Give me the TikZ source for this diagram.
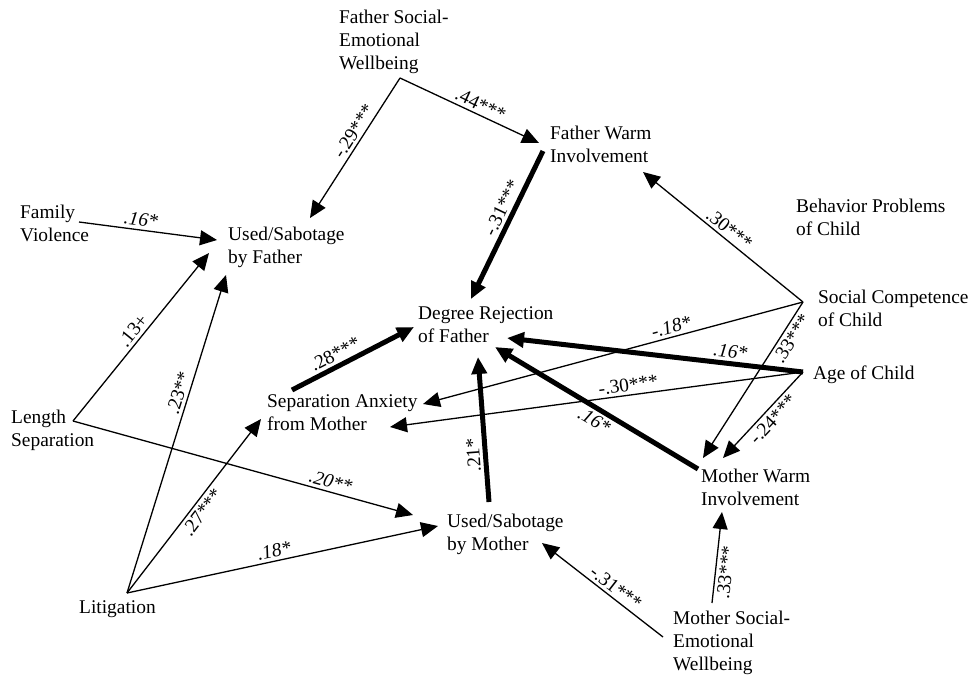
\documentclass[tikz,border=0pt]{standalone}
\usepackage{fontspec}
\setmainfont{Liberation Serif}
\usetikzlibrary{arrows.meta}

\begin{document}
\begin{tikzpicture}[x=1pt, y=-1pt, >={Triangle[length=17pt,width=15pt]}, every node/.style={font=\fontsize{19.4}{23}\selectfont}]
  \tikzstyle{var}=[anchor=north west, inner sep=0pt, align=left]
  \tikzstyle{lnk}=[->, line width=1.3pt]
  \tikzstyle{lnkb}=[->, line width=5pt]
  \tikzstyle{coef}=[sloped, inner sep=3pt]
  \tikzstyle{coefi}=[coef, font=\fontsize{19.4}{23}\selectfont\itshape]
  \useasboundingbox (0,0) rectangle (972,678);
  % variables
  \node[var] (fsew) at (339,10) {Father Social-\\Emotional\\Wellbeing};
  \node[var] (fw) at (550,126) {Father Warm\\Involvement};
  \node[var] (bp) at (796,199) {Behavior Problems\\of Child};
  \node[var] (sc) at (818,290) {Social Competence\\of Child};
  \node[var] (age) at (813,366) {Age of Child};
  \node[var] (dr) at (418,306) {Degree Rejection\\of Father};
  \node[var] (fv) at (20,205) {Family\\Violence};
  \node[var] (uf) at (228,227) {Used/Sabotage\\by Father};
  \node[var] (ls) at (11,410) {Length\\Separation};
  \node[var] (sa) at (267,394) {Separation Anxiety\\from Mother};
  \node[var] (um) at (447,514) {Used/Sabotage\\by Mother};
  \node[var] (lit) at (79,600) {Litigation};
  \node[var] (mw) at (701,469) {Mother Warm\\Involvement};
  \node[var] (msew) at (673,611) {Mother Social-\\Emotional\\Wellbeing};
  % ports
  \coordinate (fsew-o) at (400,78);
  \coordinate (fw-o) at (543,151);
  \coordinate (fv-o) at (79,222);
  \coordinate (ls-o) at (73,421);
  \coordinate (lit-o) at (127,593);
  \coordinate (sa-o) at (292,390);
  \coordinate (um-o) at (489,502);
  \coordinate (age-o) at (803,372);
  \coordinate (mw-o) at (698,469);
  \coordinate (sc-o) at (803,302);
  \coordinate (msew-o1) at (663,637);
  \coordinate (msew-o2) at (712,603);
  \coordinate (uf-a) at (310,218);
  \coordinate (uf-b) at (217,240);
  \coordinate (uf-c) at (209,253);
  \coordinate (uf-d) at (226,275);
  \coordinate (fw-a) at (539,143);
  \coordinate (fw-b) at (643,172);
  \coordinate (dr-a) at (471,299);
  \coordinate (dr-b) at (414,327);
  \coordinate (dr-c) at (478,357);
  \coordinate (dr-d) at (507,338);
  \coordinate (dr-e) at (495,347);
  \coordinate (sa-a) at (261,419);
  \coordinate (sa-b) at (423,404);
  \coordinate (sa-c) at (390,427);
  \coordinate (um-a) at (438,526);
  \coordinate (um-b) at (413,515);
  \coordinate (um-c) at (542,543);
  \coordinate (mw-a) at (703,458);
  \coordinate (mw-b) at (723,458);
  \coordinate (mw-c) at (722,512);
  % paths
  \draw[lnk] (fsew-o) -- node[coef, pos=.42, above] {-.29***} (uf-a);
  \draw[lnk] (fsew-o) -- node[coef, pos=.55, above] {.44***} (fw-a);
  \draw[lnkb] (fw-o) -- node[coef, pos=.42, above] {-.31***} (dr-a);
  \draw[lnk] (fv-o) -- node[coefi, pos=.44, above] {.16*} (uf-b);
  \draw[lnk] (ls-o) -- node[coef, pos=.5, above] {.13+} (uf-c);
  \draw[lnk] (lit-o) -- node[coef, pos=.62, above] {.23**} (uf-d);
  \draw[lnk] (lit-o) -- node[coef, pos=.5, below] {.27***} (sa-a);
  \draw[lnk] (lit-o) -- node[coefi, pos=.48, above] {.18*} (um-a);
  \draw[lnk] (ls-o) -- node[coefi, pos=.75, above] {.20**} (um-b);
  \draw[lnkb] (sa-o) -- node[coef, pos=.4, above] {.28***} (dr-b);
  \draw[lnkb] (um-o) -- node[coef, pos=.33, above, allow upside down] {.21*} (dr-c);
  \draw[lnkb] (age-o) -- node[coefi, pos=.25, above] {.16*} (dr-d);
  \draw[lnkb] (mw-o) -- node[coefi, pos=.48, below] {.16*} (dr-e);
  \draw[lnk] (sc-o) -- node[coef, pos=.5, above] {.30***} (fw-b);
  \draw[lnk] (sc-o) -- node[coefi, pos=.34, above] {-.18*} (sa-b);
  \draw[lnk] (age-o) -- node[coef, pos=.42, above] {-.30***} (sa-c);
  \draw[lnk] (sc-o) -- node[coef, pos=.2, below] {.33***} (mw-a);
  \draw[lnk] (age-o) -- node[coef, pos=.47, below] {-.24***} (mw-b);
  \draw[lnk] (msew-o1) -- node[coef, pos=.44, above] {-.31***} (um-c);
  \draw[lnk] (msew-o2) -- node[coef, pos=.35, below] {.33***} (mw-c);
\end{tikzpicture}
\end{document}
